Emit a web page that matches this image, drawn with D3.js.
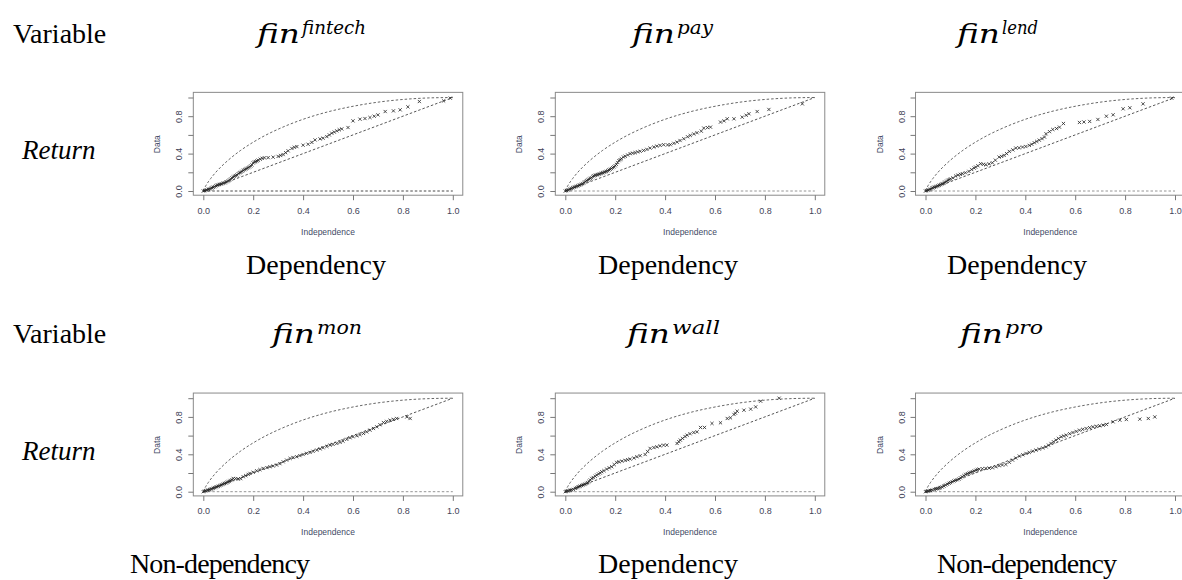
<!DOCTYPE html>
<html>
<head>
<meta charset="utf-8">
<script src="https://cdn.jsdelivr.net/npm/d3@7"></script>
<style>
  body { margin: 0; background: #fff; }
  .serif { font-family: "Liberation Serif", "Times New Roman", serif; fill: #000; }
  .math { font-family: "DejaVu Serif", serif; font-style: italic; fill: #000; }
  .tick text { font-family: "Liberation Sans", Arial, sans-serif; font-size: 9px; fill: #3f4458; }
  .tick line { stroke: #777; }
  .axis-label { font-family: "Liberation Sans", Arial, sans-serif; font-size: 8.5px; fill: #3f4a66; }
</style>
</head>
<body>
<div id="chart"></div>
<script>
// reference curve of perfect positive dependence
const upperX = [0, 0.005, 0.01, 0.02, 0.03, 0.05, 0.075, 0.1, 0.15, 0.2, 0.25, 0.3, 0.4, 0.5, 0.6, 0.7, 0.8, 0.9, 1];
const upperY = [0, 0.031, 0.056, 0.098, 0.135, 0.2, 0.269, 0.33, 0.435, 0.522, 0.597, 0.661, 0.767, 0.847, 0.906, 0.95, 0.979, 0.995, 1];

const xTicks = [0, 0.2, 0.4, 0.6, 0.8, 1.0];
const yTicks = [0, 0.2, 0.4, 0.6, 0.8, 1.0];
const yLabelled = [0, 0.4, 0.8];

const variables = ["fintech", "pay", "lend", "mon", "wall", "pro"];
const verdicts = ["Dependency", "Dependency", "Dependency", "Non-dependency", "Dependency", "Non-dependency"];

// K-plot points (Independence, Data)
const kFintech = [[0,0],[0.005,0.004],[0.01,0.008],[0.015,0.012],[0.02,0.018],[0.025,0.022],[0.03,0.028],[0.035,0.034],[0.04,0.04],[0.045,0.046],[0.05,0.055],[0.055,0.062],[0.06,0.066],[0.065,0.07],[0.07,0.074],[0.075,0.078],[0.08,0.084],[0.085,0.088],[0.09,0.095],[0.095,0.1],[0.1,0.108],[0.105,0.118],[0.11,0.128],[0.115,0.14],[0.12,0.15],[0.125,0.158],[0.13,0.165],[0.135,0.172],[0.14,0.185],[0.145,0.195],[0.15,0.2],[0.155,0.21],[0.16,0.22],[0.165,0.228],[0.17,0.235],[0.175,0.242],[0.18,0.25],[0.185,0.258],[0.19,0.268],[0.195,0.28],[0.2,0.3],[0.205,0.31],[0.21,0.315],[0.215,0.322],[0.22,0.33],[0.228,0.34],[0.236,0.35],[0.245,0.355],[0.26,0.357],[0.28,0.362],[0.3,0.37],[0.31,0.38],[0.32,0.39],[0.33,0.41],[0.34,0.43],[0.355,0.455],[0.365,0.468],[0.375,0.475],[0.4,0.49],[0.42,0.5],[0.435,0.52],[0.448,0.546],[0.468,0.557],[0.48,0.565],[0.495,0.582],[0.505,0.6],[0.515,0.618],[0.525,0.63],[0.535,0.643],[0.545,0.655],[0.555,0.664],[0.58,0.679],[0.6,0.75],[0.628,0.768],[0.648,0.775],[0.668,0.786],[0.685,0.8],[0.7,0.814],[0.729,0.85],[0.762,0.857],[0.789,0.868],[0.82,0.9],[0.866,0.957],[0.963,0.964],[0.99,0.993]];
const kPay = [[0,0],[0.005,0.005],[0.01,0.01],[0.015,0.015],[0.02,0.022],[0.025,0.028],[0.03,0.035],[0.035,0.04],[0.04,0.045],[0.045,0.05],[0.05,0.055],[0.055,0.062],[0.06,0.066],[0.065,0.072],[0.07,0.08],[0.075,0.09],[0.08,0.1],[0.085,0.11],[0.09,0.118],[0.095,0.126],[0.1,0.135],[0.105,0.142],[0.11,0.155],[0.115,0.162],[0.12,0.168],[0.125,0.172],[0.13,0.176],[0.135,0.18],[0.14,0.185],[0.145,0.19],[0.15,0.195],[0.155,0.2],[0.16,0.205],[0.165,0.21],[0.17,0.218],[0.175,0.225],[0.18,0.232],[0.185,0.24],[0.19,0.25],[0.195,0.258],[0.2,0.27],[0.205,0.285],[0.21,0.305],[0.215,0.325],[0.22,0.335],[0.225,0.345],[0.233,0.363],[0.24,0.372],[0.25,0.385],[0.26,0.399],[0.27,0.405],[0.28,0.41],[0.29,0.418],[0.3,0.425],[0.314,0.434],[0.327,0.445],[0.34,0.459],[0.355,0.47],[0.367,0.48],[0.38,0.488],[0.394,0.495],[0.41,0.493],[0.421,0.495],[0.435,0.51],[0.448,0.523],[0.46,0.54],[0.475,0.559],[0.49,0.58],[0.501,0.594],[0.515,0.61],[0.528,0.623],[0.545,0.64],[0.555,0.673],[0.57,0.678],[0.582,0.683],[0.622,0.737],[0.636,0.75],[0.649,0.772],[0.676,0.772],[0.709,0.79],[0.725,0.81],[0.736,0.826],[0.769,0.85],[0.816,0.872],[0.95,0.932]];
const kLend = [[0,0],[0.005,0.005],[0.01,0.01],[0.015,0.014],[0.02,0.02],[0.025,0.03],[0.03,0.034],[0.035,0.04],[0.04,0.045],[0.045,0.05],[0.05,0.056],[0.055,0.062],[0.06,0.068],[0.065,0.075],[0.07,0.08],[0.075,0.088],[0.08,0.095],[0.085,0.105],[0.09,0.115],[0.095,0.122],[0.1,0.13],[0.11,0.14],[0.121,0.16],[0.13,0.17],[0.14,0.178],[0.148,0.185],[0.16,0.195],[0.174,0.21],[0.185,0.23],[0.195,0.245],[0.201,0.256],[0.21,0.27],[0.221,0.292],[0.232,0.285],[0.242,0.281],[0.255,0.29],[0.268,0.302],[0.28,0.33],[0.295,0.363],[0.305,0.37],[0.315,0.381],[0.325,0.4],[0.336,0.423],[0.35,0.44],[0.362,0.459],[0.375,0.462],[0.389,0.47],[0.402,0.476],[0.416,0.488],[0.426,0.5],[0.436,0.516],[0.446,0.53],[0.456,0.544],[0.467,0.56],[0.477,0.577],[0.483,0.612],[0.497,0.635],[0.51,0.658],[0.525,0.668],[0.537,0.683],[0.553,0.722],[0.617,0.733],[0.635,0.738],[0.658,0.744],[0.691,0.765],[0.725,0.8],[0.752,0.815],[0.792,0.879],[0.819,0.89],[0.872,0.932],[0.987,0.993]];
const kMon = [[0,0],[0.005,0.005],[0.01,0.01],[0.015,0.014],[0.02,0.018],[0.025,0.022],[0.03,0.028],[0.035,0.032],[0.04,0.038],[0.045,0.043],[0.05,0.048],[0.055,0.053],[0.06,0.058],[0.065,0.064],[0.07,0.07],[0.075,0.076],[0.08,0.082],[0.085,0.088],[0.09,0.094],[0.095,0.1],[0.1,0.106],[0.105,0.112],[0.11,0.12],[0.115,0.128],[0.12,0.142],[0.13,0.14],[0.14,0.135],[0.15,0.14],[0.16,0.16],[0.17,0.172],[0.18,0.185],[0.187,0.196],[0.2,0.208],[0.214,0.224],[0.227,0.236],[0.24,0.249],[0.255,0.258],[0.267,0.267],[0.28,0.275],[0.294,0.285],[0.307,0.3],[0.32,0.32],[0.334,0.338],[0.348,0.356],[0.36,0.366],[0.374,0.374],[0.387,0.386],[0.4,0.398],[0.414,0.41],[0.428,0.42],[0.44,0.432],[0.455,0.445],[0.468,0.458],[0.48,0.47],[0.495,0.484],[0.508,0.498],[0.52,0.506],[0.535,0.516],[0.548,0.528],[0.56,0.541],[0.575,0.56],[0.588,0.577],[0.6,0.588],[0.615,0.598],[0.628,0.61],[0.642,0.623],[0.655,0.64],[0.668,0.658],[0.682,0.676],[0.695,0.694],[0.708,0.716],[0.722,0.74],[0.735,0.752],[0.749,0.765],[0.762,0.774],[0.775,0.783],[0.816,0.8],[0.829,0.783]];
const kWall = [[0,0],[0.005,0.004],[0.01,0.008],[0.015,0.012],[0.02,0.016],[0.025,0.02],[0.032,0.025],[0.04,0.035],[0.045,0.042],[0.05,0.048],[0.055,0.054],[0.059,0.06],[0.065,0.066],[0.07,0.072],[0.075,0.077],[0.08,0.082],[0.086,0.089],[0.09,0.098],[0.095,0.11],[0.1,0.125],[0.106,0.142],[0.112,0.152],[0.12,0.165],[0.126,0.178],[0.133,0.19],[0.14,0.2],[0.146,0.214],[0.155,0.225],[0.166,0.242],[0.176,0.255],[0.186,0.267],[0.196,0.29],[0.206,0.313],[0.215,0.32],[0.227,0.327],[0.24,0.335],[0.25,0.342],[0.26,0.349],[0.275,0.36],[0.287,0.374],[0.3,0.385],[0.32,0.398],[0.33,0.43],[0.34,0.463],[0.355,0.472],[0.367,0.48],[0.38,0.49],[0.394,0.498],[0.407,0.498],[0.448,0.516],[0.455,0.535],[0.461,0.552],[0.47,0.57],[0.48,0.59],[0.488,0.605],[0.5,0.62],[0.515,0.633],[0.528,0.64],[0.542,0.687],[0.558,0.687],[0.588,0.73],[0.622,0.737],[0.649,0.783],[0.662,0.79],[0.676,0.826],[0.682,0.84],[0.689,0.861],[0.716,0.872],[0.743,0.883],[0.763,0.907],[0.783,0.968],[0.857,1.0]];
const kPro = [[0,0],[0.005,0.003],[0.01,0.006],[0.015,0.01],[0.02,0.013],[0.027,0.018],[0.035,0.024],[0.042,0.03],[0.048,0.033],[0.054,0.036],[0.06,0.042],[0.067,0.05],[0.074,0.06],[0.081,0.071],[0.088,0.08],[0.095,0.09],[0.1,0.098],[0.107,0.107],[0.114,0.115],[0.12,0.122],[0.127,0.128],[0.134,0.135],[0.14,0.148],[0.147,0.16],[0.154,0.172],[0.161,0.185],[0.168,0.193],[0.175,0.2],[0.181,0.207],[0.188,0.214],[0.195,0.222],[0.202,0.23],[0.208,0.236],[0.215,0.242],[0.228,0.246],[0.242,0.249],[0.255,0.252],[0.268,0.256],[0.282,0.267],[0.295,0.278],[0.308,0.285],[0.322,0.292],[0.336,0.315],[0.349,0.338],[0.362,0.36],[0.376,0.381],[0.39,0.395],[0.403,0.409],[0.416,0.42],[0.43,0.434],[0.443,0.445],[0.456,0.456],[0.47,0.468],[0.483,0.48],[0.493,0.498],[0.503,0.516],[0.513,0.534],[0.523,0.552],[0.533,0.57],[0.544,0.587],[0.554,0.596],[0.564,0.605],[0.578,0.62],[0.591,0.633],[0.604,0.645],[0.617,0.658],[0.63,0.667],[0.644,0.676],[0.658,0.685],[0.671,0.694],[0.685,0.7],[0.698,0.705],[0.712,0.712],[0.725,0.719],[0.752,0.747],[0.779,0.765],[0.805,0.772],[0.859,0.776],[0.893,0.783],[0.919,0.8]];

const kData = [kFintech, kPay, kLend, kMon, kWall, kPro];

// page layout
const W = 1182, H = 580;
const colX = [203.3, 565.3, 925.5];   // pixel of Independence = 0
const rowY = [191, 491.7];            // pixel of Data = 0
const unitX = 249.5, unitY = 93.5;
const headX = [[257, 632, 957], [272, 627, 960]];
const supW = [64, 36, 36, 45, 48, 38];
const verdictX = [[316, 668, 1017], [220, 668, 1027]];

const svg = d3.select("#chart").append("svg")
    .attr("width", W)
    .attr("height", H);

const upperLine = d3.line()
    .curve(d3.curveMonotoneX);

for (let r = 0; r < 2; r++) {
    // left labels
    svg.append("text").attr("class", "serif")
        .attr("x", 13).attr("y", 42.7 + r * 300.6)
        .style("font-size", "28px")
        .text("Variable");
    svg.append("text").attr("class", "serif")
        .attr("x", 22).attr("y", 159 + r * 301)
        .style("font-size", "27px").style("font-style", "italic")
        .text("Return");

    for (let c = 0; c < 3; c++) {
        let i = r * 3 + c;

        // header fin^var
        let hx = headX[r][c], hy = 42.7 + r * 300.6;
        svg.append("text").attr("class", "math")
            .attr("x", hx).attr("y", hy)
            .style("font-size", "26px")
            .attr("textLength", 43).attr("lengthAdjust", "spacingAndGlyphs")
            .text("fin");
        svg.append("text").attr("class", "math")
            .attr("x", hx + 45).attr("y", hy - 9)
            .style("font-size", "18px")
            .attr("textLength", supW[i]).attr("lengthAdjust", "spacingAndGlyphs")
            .text(variables[i]);

        // verdict under the panel
        let vt = svg.append("text").attr("class", "serif")
            .attr("x", verdictX[r][c]).attr("y", 274 + r * 299)
            .attr("text-anchor", "middle")
            .style("font-size", "28px")
            .text(verdicts[i]);
        if (verdicts[i] === "Non-dependency") vt.attr("textLength", 180).attr("lengthAdjust", "spacing");

        // scales
        let x = d3.scaleLinear().domain([0, 1]).range([colX[c], colX[c] + unitX]);
        let y = d3.scaleLinear().domain([0, 1]).range([rowY[r], rowY[r] - unitY]);
        let left = x(-0.04), right = x(1.04), top = y(1.055), bottom = y(-0.045);

        let g = svg.append("g");

        // box
        g.append("rect")
            .attr("x", left).attr("y", top)
            .attr("width", right - left).attr("height", bottom - top)
            .attr("fill", "none").attr("stroke", "#8a8a8a").attr("stroke-width", 1);

        // axes
        let xAxis = d3.axisBottom(x).tickValues(xTicks).tickFormat(d3.format(".1f"))
            .tickSize(5).tickPadding(7);
        g.append("g").attr("transform", "translate(0," + bottom + ")")
            .call(xAxis)
            .call(s => s.select(".domain").remove());

        let yAxis = d3.axisLeft(y).tickValues(yTicks)
            .tickFormat(d => yLabelled.includes(d) ? d3.format(".1f")(d) : "")
            .tickSize(5);
        g.append("g").attr("transform", "translate(" + left + ",0)")
            .call(yAxis)
            .call(s => s.select(".domain").remove())
            .selectAll("text")
            .attr("transform", "translate(-11,0) rotate(-90)")
            .attr("x", 0).attr("y", 0).attr("dy", 0)
            .attr("text-anchor", "middle");

        // axis titles
        g.append("text").attr("class", "axis-label")
            .attr("x", x(0.5)).attr("y", rowY[r] + 43.5)
            .attr("text-anchor", "middle")
            .text("Independence");
        g.append("text").attr("class", "axis-label")
            .attr("transform", "translate(" + (left - 33) + "," + y(0.5) + ") rotate(-90)")
            .attr("text-anchor", "middle")
            .text("Data");

        // reference lines
        g.append("path")
            .attr("d", upperLine(upperX.map((v, k) => [x(v), y(upperY[k])])))
            .attr("fill", "none").attr("stroke", "#555").attr("stroke-width", 0.9)
            .attr("stroke-dasharray", "2.5,2");
        g.append("line")
            .attr("x1", x(0)).attr("y1", y(0)).attr("x2", x(1)).attr("y2", y(1))
            .attr("stroke", "#444").attr("stroke-width", 0.9)
            .attr("stroke-dasharray", "2.5,2");
        g.append("line")
            .attr("x1", x(0)).attr("y1", y(0)).attr("x2", x(1)).attr("y2", y(0))
            .attr("stroke", i === 0 ? "#333" : "#888").attr("stroke-width", 0.9)
            .attr("stroke-dasharray", "2.5,2");

        // points as small crosses
        const s = 1.6;
        g.selectAll(".pt")
            .data(kData[i])
            .enter().append("path")
            .attr("class", "pt")
            .attr("d", d => {
                let px = x(d[0]), py = y(d[1]);
                return "M" + (px - s) + "," + (py - s) + "L" + (px + s) + "," + (py + s) +
                       "M" + (px - s) + "," + (py + s) + "L" + (px + s) + "," + (py - s);
            })
            .attr("stroke", "#222").attr("stroke-width", 0.8).attr("fill", "none");
    }
}
</script>
</body>
</html>
